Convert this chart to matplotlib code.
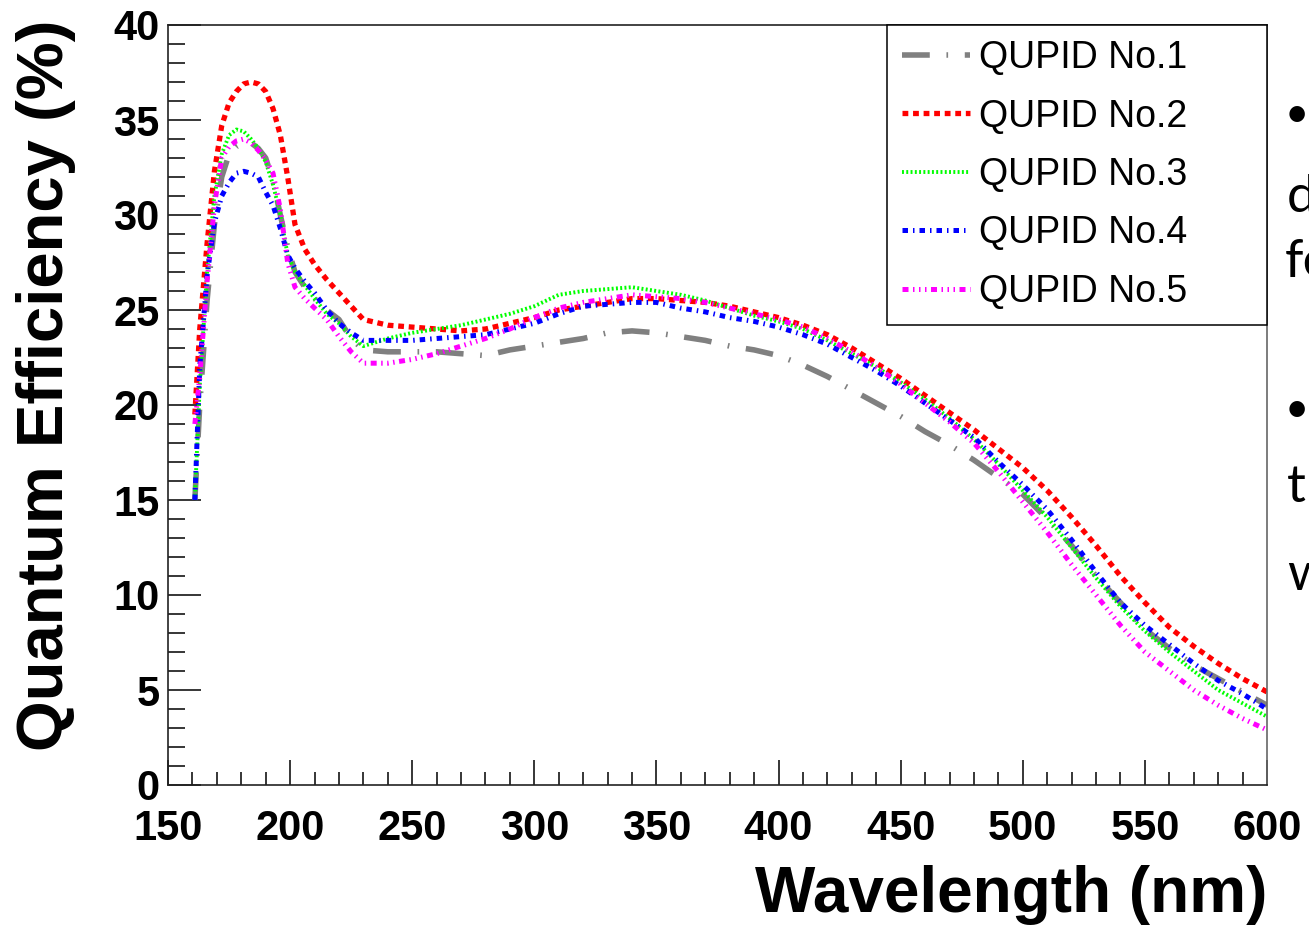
import numpy as np
import matplotlib
matplotlib.use("Agg")
import matplotlib.pyplot as plt
from matplotlib.ticker import MultipleLocator

# wavelength grid (nm)
wavelength = [161, 163, 166, 169, 172, 175, 178, 181, 184, 187, 190, 193, 196, 199,
              202, 206, 210, 215, 220, 225, 230, 240, 250, 260, 270, 280, 290, 300,
              310, 320, 330, 340, 350, 360, 370, 380, 390, 400, 410, 420, 430, 440,
              450, 460, 470, 480, 490, 500, 510, 520, 530, 540, 550, 560, 570, 580,
              590, 600]

# quantum efficiency (%)
qe_no1 = [15.0, 20.0, 25.5, 29.5, 32.0, 33.2, 33.6, 33.8, 33.8, 33.5, 33.0, 31.8, 30.0, 28.3,
          27.0, 26.2, 25.6, 25.0, 24.5, 23.5, 22.9, 22.8, 22.8, 22.8, 22.7, 22.6, 22.9, 23.1,
          23.3, 23.5, 23.8, 23.9, 23.8, 23.6, 23.4, 23.1, 22.9, 22.6, 22.1, 21.5, 20.8, 20.1,
          19.4, 18.6, 17.9, 17.1, 16.2, 15.3, 14.0, 12.6, 11.0, 9.6, 8.2, 7.2, 6.3, 5.6,
          4.9, 4.2]
qe_no2 = [19.5, 24.0, 28.5, 32.3, 34.7, 35.9, 36.5, 36.9, 37.0, 36.9, 36.5, 35.6, 34.2, 32.0,
          29.5, 28.2, 27.4, 26.6, 25.9, 25.2, 24.5, 24.2, 24.1, 24.0, 23.9, 24.0, 24.3, 24.6,
          25.0, 25.2, 25.4, 25.6, 25.6, 25.5, 25.4, 25.2, 24.9, 24.6, 24.2, 23.7, 23.0, 22.2,
          21.4, 20.5, 19.6, 18.7, 17.7, 16.7, 15.5, 14.1, 12.6, 11.0, 9.6, 8.3, 7.3, 6.4,
          5.6, 4.9]
qe_no3 = [15.0, 21.0, 27.0, 31.0, 33.2, 34.2, 34.5, 34.4, 34.0, 33.5, 32.8, 31.6, 30.0, 27.9,
          27.0, 26.3, 25.6, 24.8, 24.3, 23.6, 23.1, 23.5, 23.8, 24.0, 24.2, 24.5, 24.8, 25.2,
          25.8, 26.0, 26.1, 26.2, 26.0, 25.8, 25.5, 25.1, 24.7, 24.4, 24.0, 23.4, 22.7, 22.0,
          21.2, 20.3, 19.3, 18.2, 16.9, 15.5, 14.1, 12.5, 10.9, 9.4, 8.1, 7.0, 6.0, 5.0,
          4.3, 3.6]
qe_no4 = [15.0, 22.0, 26.8, 29.6, 31.0, 31.7, 32.2, 32.3, 32.2, 32.0, 31.2, 30.5, 29.3, 27.9,
          27.2, 26.5, 25.9, 25.0, 24.3, 23.8, 23.4, 23.4, 23.4, 23.5, 23.6, 23.7, 24.0, 24.3,
          24.8, 25.2, 25.3, 25.4, 25.4, 25.1, 24.9, 24.6, 24.4, 24.1, 23.7, 23.2, 22.5, 21.8,
          21.0, 20.1, 19.2, 18.3, 17.0, 15.8, 14.5, 12.9, 11.2, 9.6, 8.4, 7.4, 6.4, 5.5,
          4.8, 4.0]
qe_no5 = [19.0, 21.5, 26.5, 30.5, 33.0, 33.6, 33.9, 34.0, 33.8, 33.4, 32.9, 32.2, 30.3, 27.5,
          26.2, 25.6, 25.1, 24.5, 23.6, 22.8, 22.2, 22.2, 22.4, 22.7, 23.1, 23.5, 24.0, 24.6,
          25.1, 25.4, 25.6, 25.8, 25.7, 25.6, 25.4, 25.1, 24.8, 24.5, 24.1, 23.5, 22.8, 22.0,
          21.1, 20.1, 19.1, 18.0, 16.5, 14.9, 13.3, 11.6, 10.0, 8.4, 7.0, 6.0, 5.0, 4.2,
          3.5, 2.9]

labels = ["QUPID No.1", "QUPID No.2", "QUPID No.3", "QUPID No.4", "QUPID No.5"]
series = [qe_no1, qe_no2, qe_no3, qe_no4, qe_no5]
colors = ["#808080", "#ff0000", "#00ff00", "#0000ff", "#ff00ff"]
widths = [4.0, 3.8, 2.8, 3.6, 3.6]
dashes = [(5, 3, 0.3, 3),
          (1.1, 0.9),
          (0.5, 0.6),
          (1.1, 1.0, 0.3, 1.0),
          (1.2, 0.9, 0.3, 0.9, 0.3, 0.9, 0.3, 0.9)]

plt.rcParams["font.family"] = ["Liberation Sans", "DejaVu Sans"]

W, H = 1309, 931
fig = plt.figure(figsize=(W / 100, H / 100), dpi=100)
ax = fig.add_axes([168 / W, 1 - 785 / H, (1267 - 168) / W, (785 - 25) / H])

for y, lab, c, lw, d in zip(series, labels, colors, widths, dashes):
    ax.plot(wavelength, y, color=c, lw=lw, dashes=d, label=lab,
            dash_capstyle="butt", solid_joinstyle="miter")

ax.set_xlim(150, 600)
ax.set_ylim(0, 40)
ax.xaxis.set_major_locator(MultipleLocator(50))
ax.xaxis.set_minor_locator(MultipleLocator(10))
ax.yaxis.set_major_locator(MultipleLocator(5))
ax.yaxis.set_minor_locator(MultipleLocator(1))

ax.tick_params(axis="x", which="major", direction="in", length=18, width=1.1,
               labelsize=30, pad=17, top=False)
ax.tick_params(axis="x", which="minor", direction="in", length=9.5, width=1.1, top=False)
ax.tick_params(axis="y", which="major", direction="in", length=24, width=1.1,
               labelsize=30, pad=6, right=False)
ax.tick_params(axis="y", which="minor", direction="in", length=12, width=1.1, right=False)
for t in ax.get_xticklabels() + ax.get_yticklabels():
    t.set_fontweight("bold")

for s in ax.spines.values():
    s.set_linewidth(1.2)
    s.set_color("#222222")
ax.spines["right"].set_color("#666666")

fig.text(46 / W, 1 - 385 / H, "Quantum Efficiency (%)", rotation=90, fontsize=47,
         fontweight="bold", ha="center", va="center")
fig.text(1267 / W, 1 - 895 / H, "Wavelength (nm)", fontsize=46,
         fontweight="bold", ha="right", va="center")

leg = ax.legend(loc="upper right",
                bbox_to_anchor=((887 - 168) / 1099, 0, (1267 - 887) / 1099, 1.0),
                mode="expand", borderaxespad=0, fontsize=27, handlelength=1.8,
                handletextpad=0.25, labelspacing=0.6, borderpad=0.4,
                fancybox=False, framealpha=1, edgecolor="black")
leg.get_frame().set_linewidth(1.1)

# partially visible slide text on the right edge
side = ["Lato", "DejaVu Sans"]
fig.text(1285 / W, 1 - 115 / H, "\u2022", fontsize=30, family=side, ha="left", va="center")
fig.text(1287 / W, 1 - 212 / H, "d", fontsize=38, family=side, ha="left", va="baseline")
fig.text(1285 / W, 1 - 277 / H, "fe", fontsize=38, family=side, ha="left", va="baseline")
fig.text(1285 / W, 1 - 410 / H, "\u2022", fontsize=30, family=side, ha="left", va="center")
fig.text(1287 / W, 1 - 502 / H, "t", fontsize=38, family=side, ha="left", va="baseline")
fig.text(1287 / W, 1 - 590 / H, "w", fontsize=38, family=side, ha="left", va="baseline")

fig.savefig("out.png", dpi=100)
